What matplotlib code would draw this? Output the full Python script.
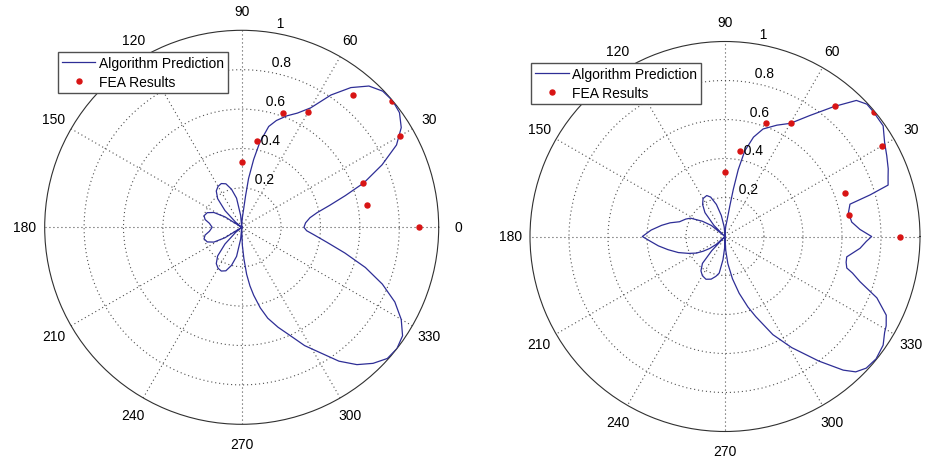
import numpy as np
import matplotlib
matplotlib.use("Agg")
import matplotlib.pyplot as plt

plt.rcParams['font.family'] = ['Liberation Sans', 'DejaVu Sans']

# ---------------- data ----------------
# Algorithm prediction, left panel (angle in degrees, normalised radius)
left_theta = [-90, -88, -86, -84, -82, -80, -77, -74, -70, -66, -62, -58, -54, -50, -46, -42,
              -38, -34, -30, -26, -22, -18, -14, -10, -6, -3, 0, 4, 8, 11, 14, 17, 20, 24, 28,
              32, 36, 40, 44, 48, 52, 56, 60, 64, 68, 72, 75, 78, 80, 82, 83, 84, 86, 88, 90,
              95, 100, 105, 110, 115, 120, 125, 130, 135, 140, 143, 148, 152, 157, 163, 168,
              173, 180, 187, 192, 197, 203, 208, 212, 217, 220, 225, 230, 235, 240, 245, 250,
              255, 260, 265, 270]
left_r = [0.0, 0.09, 0.16, 0.24, 0.30, 0.35, 0.42, 0.48, 0.54, 0.60, 0.68, 0.75, 0.84, 0.91,
          0.96, 0.995, 1.0, 0.985, 0.935, 0.865, 0.77, 0.66, 0.54, 0.44, 0.37, 0.33, 0.316,
          0.325, 0.35, 0.39, 0.46, 0.55, 0.66, 0.78, 0.89, 0.955, 0.99, 1.0, 0.995, 0.965,
          0.90, 0.81, 0.70, 0.645, 0.61, 0.57, 0.53, 0.44, 0.35, 0.25, 0.16, 0.09, 0.05, 0.02,
          0.0, 0.06, 0.15, 0.20, 0.235, 0.245, 0.24, 0.225, 0.19, 0.12, 0.04, 0.0, 0.10, 0.16,
          0.19, 0.20, 0.19, 0.165, 0.15, 0.165, 0.19, 0.20, 0.19, 0.16, 0.10, 0.0, 0.04, 0.12,
          0.19, 0.225, 0.24, 0.245, 0.235, 0.20, 0.15, 0.06, 0.0]

# Algorithm prediction, right panel
right_theta = [-90, -87, -84, -80, -76, -72, -69, -64, -59, -53, -48.5, -46, -43, -39, -34.5,
               -31, -29, -26, -22, -18.5, -16, -14.5, -12, -9.5, -5, -2, 0, 3, 6.5, 11, 14.5,
               16, 17.5, 20, 22.5, 26.5, 30.5, 35, 40, 43, 46, 50, 55, 60, 65, 70.5, 74, 77,
               78.8, 80, 81, 83, 86, 88, 90, 95, 100, 105, 110, 114, 120, 125, 130, 135, 138,
               141, 146, 152, 156, 162, 166, 170, 175, 180, 184, 188, 193, 199, 205, 210, 214,
               218, 222, 225, 227, 230, 235, 240, 246, 252, 257, 261, 265, 268, 270]
right_r = [0.0, 0.07, 0.14, 0.22, 0.30, 0.38, 0.44, 0.56, 0.665, 0.80, 0.915, 0.965, 0.99,
           0.997, 0.984, 0.955, 0.945, 0.92, 0.84, 0.73, 0.68, 0.645, 0.635, 0.633, 0.695,
           0.725, 0.752, 0.693, 0.654, 0.645, 0.662, 0.774, 0.877, 0.89, 0.906, 0.927, 0.95,
           0.99, 0.994, 0.995, 0.97, 0.87, 0.757, 0.67, 0.63, 0.585, 0.53, 0.45, 0.35, 0.246,
           0.16, 0.08, 0.05, 0.025, 0.0, 0.05, 0.11, 0.17, 0.215, 0.23, 0.225, 0.20, 0.16, 0.08,
           0.0, 0.09, 0.14, 0.20, 0.22, 0.245, 0.29, 0.33, 0.38, 0.424, 0.38, 0.345, 0.30,
           0.253, 0.205, 0.17, 0.135, 0.10, 0.06, 0.0, 0.10, 0.18, 0.215, 0.232, 0.24, 0.23,
           0.21, 0.19, 0.12, 0.06, 0.0]

# FEA results (same in both panels)
fea_theta = [0, 10, 20, 30, 40, 50, 60, 70, 80, 90]
fea_r = [0.90, 0.645, 0.655, 0.93, 0.995, 0.875, 0.675, 0.62, 0.445, 0.33]

angle_ticks = list(range(0, 360, 30))
radial_ticks = [0.2, 0.4, 0.6, 0.8, 1.0]
radial_labels = ['0.2', '0.4', '0.6', '0.8', '1']

line_color = '#2e2e96'
dot_color = '#d81414'

W, H = 937, 460
fig = plt.figure(figsize=(W / 100, H / 100), dpi=100)


def make_panel(cx, cy, R, theta_deg, r, legend_xy):
    ax = fig.add_axes([(cx - R) / W, (H - cy - R) / H, 2 * R / W, 2 * R / H],
                      projection='polar')
    ax.set_ylim(0, 1)
    ax.set_xticks(np.deg2rad(angle_ticks))
    ax.set_xticklabels([])
    ax.set_yticks(radial_ticks[:-1])
    ax.set_yticklabels([])
    ax.grid(True, color='#505050', linestyle=(0, (1, 2.6)), linewidth=0.8)
    ax.spines['polar'].set_color('#303030')
    ax.spines['polar'].set_linewidth(0.8)
    ax.tick_params(length=0)

    ln, = ax.plot(np.deg2rad(theta_deg), r, color=line_color, lw=0.9,
                  label='Algorithm Prediction', zorder=3)
    pts, = ax.plot(np.deg2rad(fea_theta), fea_r, linestyle='none', marker='o',
                   ms=3.6, mfc=dot_color, mec=dot_color, label='FEA Results', zorder=4)

    for a in angle_ticks:
        ax.text(np.deg2rad(a), 1.1, str(a), ha='center', va='center', fontsize=10,
                clip_on=False)
    for rv, lab in zip(radial_ticks, radial_labels):
        ax.text(np.deg2rad(82), rv + 0.01, '  ' + lab, ha='left', va='bottom',
                fontsize=10, clip_on=False)

    leg = fig.legend(handles=[ln, pts], loc='upper left',
                     bbox_to_anchor=(legend_xy[0] / W, 1 - legend_xy[1] / H),
                     bbox_transform=fig.transFigure, borderaxespad=0,
                     fancybox=False, framealpha=1, edgecolor='#505050', fontsize=10,
                     handlelength=2.4, handletextpad=0.25, labelspacing=0.35,
                     borderpad=0.3, numpoints=1)
    leg.get_frame().set_linewidth(1.0)
    return ax


make_panel(241.7, 228.3, 197, left_theta, left_r, (58, 53))
make_panel(725.0, 237.5, 195, right_theta, right_r, (531, 64))

fig.savefig('out.png', dpi=100)
